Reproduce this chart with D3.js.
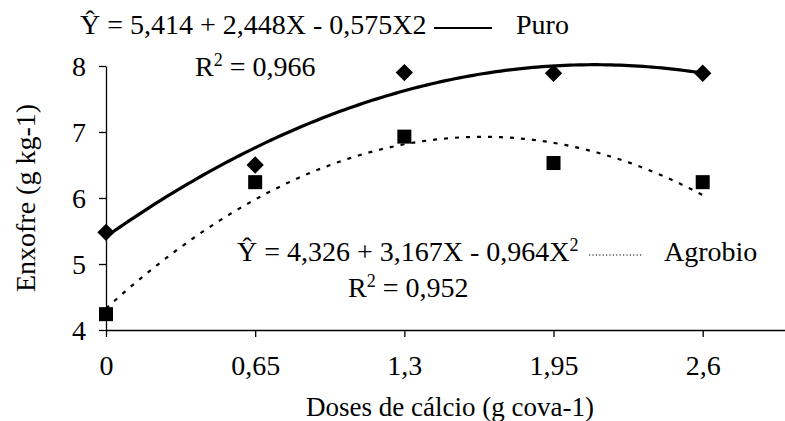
<!DOCTYPE html>
<html>
<head>
<meta charset="utf-8">
<script src="https://cdn.jsdelivr.net/npm/d3@7"></script>
<style>
  html, body { margin: 0; padding: 0; background: #fff; }
  svg { display: block; }
  text { font-family: "Liberation Serif", "Times New Roman", serif; fill: #000; font-size: 28px; }
</style>
</head>
<body>
<svg id="chart" width="785" height="421"></svg>
<script>
// Calcium doses (g cova-1)
const doses = [0, 0.65, 1.3, 1.95, 2.6];
const doseLabels = ["0", "0,65", "1,3", "1,95", "2,6"];
// Sulphur content (g kg-1) observed for each substrate
const puro = [5.48, 6.50, 7.90, 7.89, 7.89];
const agrobio = [4.24, 6.24, 6.93, 6.53, 6.24];
// Quadratic fits: b0 + b1*X + b2*X^2
const puroFit = [5.414, 2.448, -0.575];
const agrobioFit = [4.326, 3.167, -0.964];
const yTicks = [4, 5, 6, 7, 8];

const svg = d3.select("#chart");
const x = d3.scaleLinear().domain([0, 3]).range([106, 794.5]);
const y = d3.scaleLinear().domain([4, 8]).range([330, 66]);

// Axes
const xAxis = svg.append("g").attr("transform", `translate(0,${y(4)})`)
  .call(d3.axisBottom(x).tickValues(doses).tickFormat((d, i) => doseLabels[i]).tickSize(7).tickSizeOuter(0));
const yAxis = svg.append("g").attr("transform", `translate(${x(0)},0)`)
  .call(d3.axisLeft(y).tickValues(yTicks).tickFormat(d => d).tickSize(7).tickSizeOuter(0));
[xAxis, yAxis].forEach(g => {
  g.select(".domain").attr("stroke", "#000").attr("stroke-width", 1.3);
  g.selectAll(".tick line").attr("stroke", "#000").attr("stroke-width", 1.3);
  g.selectAll(".tick text").style("font-family", "Liberation Serif").style("font-size", "28px").attr("fill", "#000");
});
xAxis.selectAll(".tick text").attr("dy", "0").attr("y", 45);
yAxis.selectAll(".tick text").attr("x", -20).attr("dy", "0.34em");

// Axis titles
svg.append("text").attr("x", 450).attr("y", 416).attr("text-anchor", "middle")
  .style("font-size", "27px").text("Doses de cálcio (g cova-1)");
svg.append("text").attr("transform", `translate(35,${(y(4) + y(8)) / 2}) rotate(-90)`)
  .attr("text-anchor", "middle").text("Enxofre (g kg-1)");

// Fitted curves
const poly = c => X => c[0] + c[1] * X + c[2] * X * X;
const xs = d3.range(0, 2.6 + 1e-9, 0.02);
const line = f => d3.line().x(d => x(d)).y(d => y(f(d)))(xs);
svg.append("path").attr("d", line(poly(puroFit))).attr("fill", "none")
  .attr("stroke", "#000").attr("stroke-width", 3.2);
svg.append("path").attr("d", line(poly(agrobioFit))).attr("fill", "none")
  .attr("stroke", "#000").attr("stroke-width", 2.2).attr("stroke-dasharray", "4,7");

// Observed points: squares for Agrobio, diamonds for Puro
svg.append("g").selectAll("rect").data(doses).join("rect")
  .attr("x", d => x(d) - 7).attr("y", (d, i) => y(agrobio[i]) - 7)
  .attr("width", 14).attr("height", 14);
svg.append("g").selectAll("path").data(doses).join("path")
  .attr("d", d3.symbol(d3.symbolSquare, 150))
  .attr("transform", (d, i) => `translate(${x(d)},${y(puro[i])}) rotate(45)`);

// Equations and legend keys
svg.append("text").attr("x", 80).attr("y", 34)
  .text("Ŷ = 5,414 + 2,448X - 0,575X2");
svg.append("line").attr("x1", 434).attr("x2", 492).attr("y1", 28).attr("y2", 28)
  .attr("stroke", "#000").attr("stroke-width", 2);
svg.append("text").attr("x", 516).attr("y", 34).text("Puro");
svg.append("text").attr("x", 195).attr("y", 76)
  .html('R<tspan dy="-10" font-size="18">2</tspan><tspan dy="10"> = 0,966</tspan>');

svg.append("text").attr("x", 237).attr("y", 261)
  .html('Ŷ = 4,326 + 3,167X - 0,964X<tspan dy="-10" font-size="18">2</tspan>');
svg.append("line").attr("x1", 589).attr("x2", 642).attr("y1", 255).attr("y2", 255)
  .attr("stroke", "#000").attr("stroke-width", 1.2).attr("stroke-dasharray", "1.2,2.2");
svg.append("text").attr("x", 664).attr("y", 261).text("Agrobio");
svg.append("text").attr("x", 348).attr("y", 297)
  .html('R<tspan dy="-10" font-size="18">2</tspan><tspan dy="10"> = 0,952</tspan>');
</script>
</body>
</html>
